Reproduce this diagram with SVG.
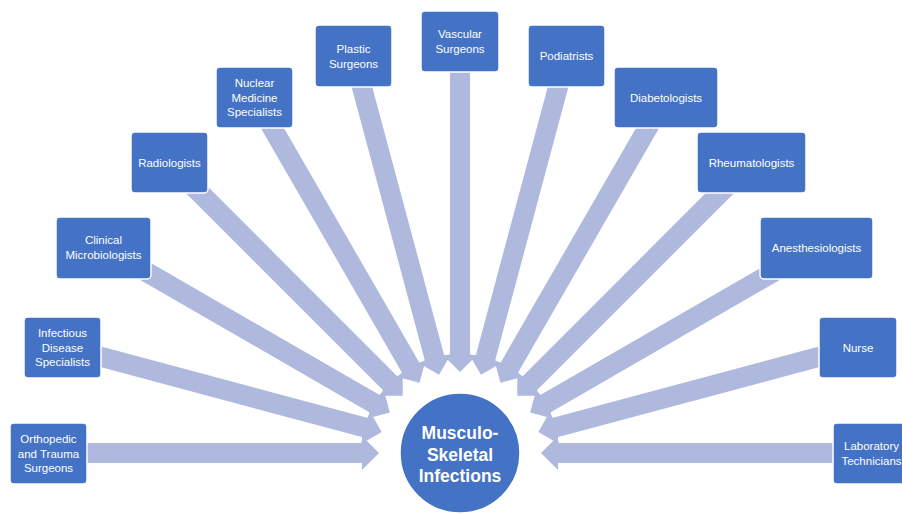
<svg xmlns="http://www.w3.org/2000/svg" xmlns:xlink="http://www.w3.org/1999/xlink" width="902" height="514" viewBox="0 0 902 514">
<style>
.box{fill:#4472C4;stroke:#ffffff;stroke-width:1.5}
.lbl{font-family:"Liberation Sans",Arial,sans-serif;font-size:11.5px;fill:#ffffff;text-anchor:middle}
.ctr{font-family:"Liberation Sans",Arial,sans-serif;font-size:17.5px;font-weight:bold;fill:#ffffff;text-anchor:middle}
.arr{fill:#AEB9DD}
</style>
<defs>
<polygon id="ba" class="arr" points="-411,-10 -98,-10 -98,-17 -81,0 -98,17 -98,10 -411,10"/>
</defs>
<rect width="902" height="514" fill="#ffffff"/>
<g id="connectors" transform="translate(460,453)">
<use xlink:href="#ba" transform="rotate(0)"/>
<use xlink:href="#ba" transform="rotate(15)"/>
<use xlink:href="#ba" transform="rotate(30)"/>
<use xlink:href="#ba" transform="rotate(45)"/>
<use xlink:href="#ba" transform="rotate(60)"/>
<use xlink:href="#ba" transform="rotate(75)"/>
<use xlink:href="#ba" transform="rotate(90)"/>
<use xlink:href="#ba" transform="rotate(105)"/>
<use xlink:href="#ba" transform="rotate(120)"/>
<use xlink:href="#ba" transform="rotate(135)"/>
<use xlink:href="#ba" transform="rotate(150)"/>
<use xlink:href="#ba" transform="rotate(165)"/>
<use xlink:href="#ba" transform="rotate(180)"/>
</g>
<g id="n-ortho"><rect class="box" x="10" y="423" width="77" height="61" rx="4"/>
<text class="lbl" x="48.5" y="443">Orthopedic</text><text class="lbl" x="48.5" y="457.5">and Trauma</text><text class="lbl" x="48.5" y="472">Surgeons</text></g>
<g id="n-infect"><rect class="box" x="24" y="317" width="77" height="61" rx="4"/>
<text class="lbl" x="62.5" y="337">Infectious</text><text class="lbl" x="62.5" y="351.5">Disease</text><text class="lbl" x="62.5" y="366">Specialists</text></g>
<g id="n-micro"><rect class="box" x="56" y="217" width="95" height="62" rx="4"/>
<text class="lbl" x="103.5" y="244">Clinical</text><text class="lbl" x="103.5" y="259">Microbiologists</text></g>
<g id="n-radio"><rect class="box" x="131" y="132" width="77" height="61" rx="4"/>
<text class="lbl" x="169.5" y="166.5">Radiologists</text></g>
<g id="n-nuclear"><rect class="box" x="216" y="67" width="77" height="61" rx="4"/>
<text class="lbl" x="254.5" y="87">Nuclear</text><text class="lbl" x="254.5" y="101.5">Medicine</text><text class="lbl" x="254.5" y="116">Specialists</text></g>
<g id="n-plastic"><rect class="box" x="315" y="25" width="77" height="62" rx="4"/>
<text class="lbl" x="353.5" y="52.5">Plastic</text><text class="lbl" x="353.5" y="67.5">Surgeons</text></g>
<g id="n-vascular"><rect class="box" x="421" y="11" width="78" height="61" rx="4"/>
<text class="lbl" x="460" y="38">Vascular</text><text class="lbl" x="460" y="53">Surgeons</text></g>
<g id="n-podiatrists"><rect class="box" x="528" y="25" width="77" height="62" rx="4"/>
<text class="lbl" x="566.5" y="60">Podiatrists</text></g>
<g id="n-diabet"><rect class="box" x="614" y="67" width="104" height="61" rx="4"/>
<text class="lbl" x="666" y="101.5">Diabetologists</text></g>
<g id="n-rheum"><rect class="box" x="697" y="132" width="109" height="61" rx="4"/>
<text class="lbl" x="751.5" y="166.5">Rheumatologists</text></g>
<g id="n-anest"><rect class="box" x="760" y="217" width="113" height="62" rx="4"/>
<text class="lbl" x="816.5" y="252">Anesthesiologists</text></g>
<g id="n-nurse"><rect class="box" x="819" y="317" width="78" height="61" rx="4"/>
<text class="lbl" x="858" y="351.5">Nurse</text></g>
<g id="n-lab"><rect class="box" x="833" y="423" width="77" height="61" rx="4"/>
<text class="lbl" x="871.5" y="450">Laboratory</text><text class="lbl" x="871.5" y="465">Technicians</text></g>
<g id="n-center"><circle cx="460" cy="453" r="60" fill="#4472C4" stroke="#ffffff" stroke-width="1.5"/>
<text class="ctr" x="460" y="438.5">Musculo-</text><text class="ctr" x="460" y="460.5">Skeletal</text><text class="ctr" x="460" y="482">Infections</text></g>
</svg>
